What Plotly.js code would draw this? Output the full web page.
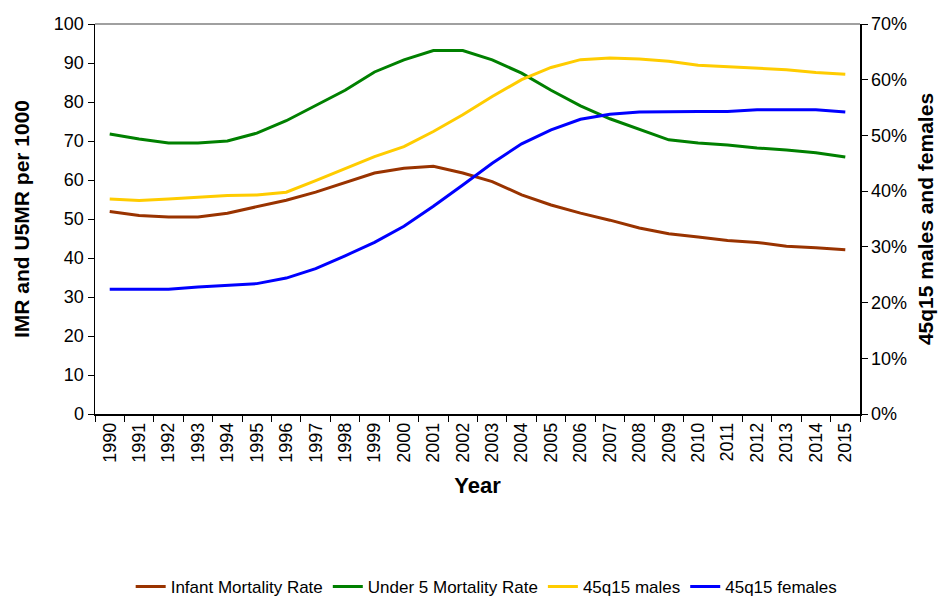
<!DOCTYPE html>
<html>
<head>
<meta charset="utf-8">
<script src="https://cdn.plot.ly/plotly-3.0.1.min.js"></script>
<style>html,body{margin:0;padding:0;background:#fff;}#chart{width:948px;height:597px;}</style>
</head>
<body>
<div id="chart"></div>
<script>
const years = ["1990","1991","1992","1993","1994","1995","1996","1997","1998","1999","2000","2001","2002","2003","2004","2005","2006","2007","2008","2009","2010","2011","2012","2013","2014","2015"];
const infantMortality = [51.9,50.9,50.5,50.5,51.5,53.1,54.8,56.9,59.4,61.8,63.0,63.5,61.8,59.6,56.2,53.6,51.5,49.7,47.7,46.2,45.4,44.5,44.0,43.0,42.6,42.1];
const under5Mortality = [71.8,70.5,69.5,69.5,70.0,72.0,75.2,79.0,83.0,87.7,90.8,93.2,93.2,90.8,87.4,83.0,79.0,75.7,73.0,70.3,69.5,69.0,68.2,67.7,67.0,65.9];
const males45q15 = [0.386,0.383,0.386,0.389,0.392,0.393,0.398,0.419,0.440,0.462,0.480,0.507,0.537,0.570,0.600,0.622,0.636,0.639,0.637,0.633,0.626,0.623,0.620,0.618,0.613,0.610];
const females45q15 = [0.224,0.224,0.224,0.228,0.231,0.234,0.244,0.261,0.284,0.308,0.337,0.373,0.411,0.450,0.485,0.510,0.529,0.538,0.542,0.543,0.543,0.543,0.546,0.546,0.546,0.542];

const seriesNames = ["Infant Mortality Rate","Under 5 Mortality Rate","45q15 males","45q15 females"];
const colors = ["#993300","#008000","#FFCC00","#0000FF"];

const traces = [
  {x: years, y: infantMortality, name: seriesNames[0], yaxis: "y", line: {color: colors[0], width: 3}},
  {x: years, y: under5Mortality, name: seriesNames[1], yaxis: "y", line: {color: colors[1], width: 3}},
  {x: years, y: males45q15, name: seriesNames[2], yaxis: "y2", line: {color: colors[2], width: 3}},
  {x: years, y: females45q15, name: seriesNames[3], yaxis: "y2", line: {color: colors[3], width: 3}}
].map(t => Object.assign({type: "scatter", mode: "lines", hoverinfo: "skip"}, t));

const font = "'Liberation Sans', Arial, sans-serif";
const layout = {
  width: 948, height: 597,
  paper_bgcolor: "#fff", plot_bgcolor: "#fff",
  margin: {l: 95, r: 88, t: 24, b: 182.5},
  font: {family: font, size: 18, color: "#000"},
  showlegend: true,
  legend: {
    orientation: "h", x: 0.512, xanchor: "center",
    yref: "container", y: 0.017, yanchor: "middle",
    font: {family: font, size: 17, color: "#000"}
  },
  xaxis: {
    type: "category", range: [-0.5, 25.5], automargin: false,
    showgrid: false, zeroline: false,
    showline: true, linecolor: "#000", linewidth: 1.5,
    ticks: "outside", ticklen: 6, tickcolor: "#000", tickson: "boundaries",
    tickangle: -90, tickfont: {size: 18}, dtick: 1,
    title: {text: "<b>Year</b>", font: {size: 22}, standoff: 16}
  },
  yaxis: {
    range: [0, 100], dtick: 10, automargin: false,
    showgrid: false, zeroline: false,
    showline: true, linecolor: "#000", linewidth: 1.5,
    ticks: "outside", ticklen: 6, tickcolor: "#000",
    tickfont: {size: 18},
    title: {text: "<b>IMR and U5MR per 1000</b>", font: {size: 21}, standoff: 18}
  },
  yaxis2: {
    overlaying: "y", side: "right", automargin: false,
    range: [0, 0.7], dtick: 0.1, tickformat: ".0%",
    showgrid: false, zeroline: false,
    showline: true, linecolor: "#000", linewidth: 1.5,
    ticks: "outside", ticklen: 6, tickcolor: "#000",
    tickfont: {size: 18},
    title: {text: "<b>45q15 males and females</b>", font: {size: 21}, standoff: 12}
  },
  shapes: [
    {type: "line", xref: "paper", yref: "paper", x0: 0, x1: 1, y0: 1, y1: 1, line: {color: "#808080", width: 1.5}}
  ]
};

Plotly.newPlot("chart", traces, layout, {staticPlot: true, displayModeBar: false});
</script>
</body>
</html>
